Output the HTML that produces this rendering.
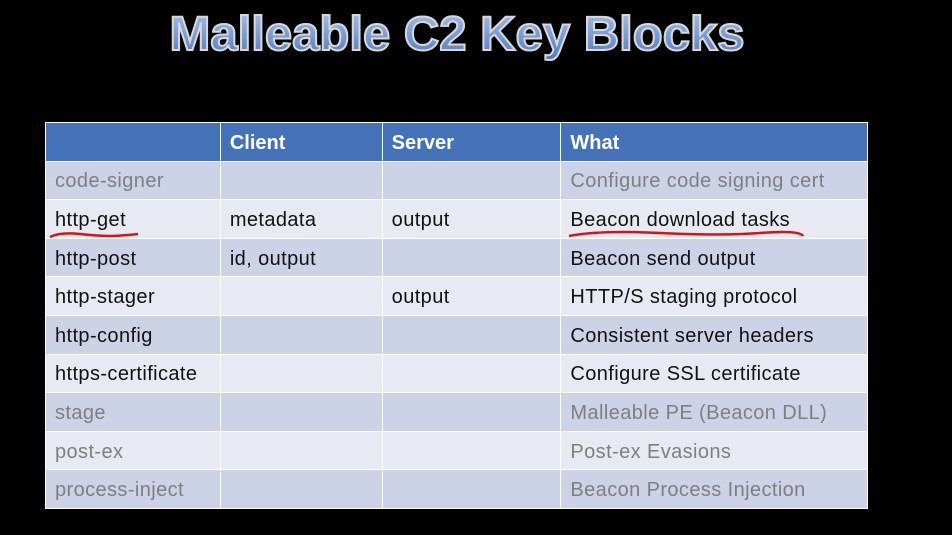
<!DOCTYPE html>
<html><head><style>
body{margin:0;width:952px;height:535px;background:#000;overflow:hidden;position:relative;font-family:"Liberation Sans",sans-serif}
.title{position:absolute;left:0;top:0;width:915px;text-align:center}
table{position:absolute;left:45px;top:122px;border-collapse:collapse;width:823px}
td{height:38.6px;padding:3px 0 0 9px;font-size:20px;letter-spacing:0.4px;color:#111;border:1.5px solid #fff;box-sizing:border-box}
tr.h td{background:#4472b9;color:#fff;font-weight:bold;letter-spacing:0}
tr.d td{background:#cdd3e6}
tr.l td{background:#e8eaf3}
.g{color:#7f7f7f!important}
</style></head><body>
<svg class="title" width="915" height="70">
<defs><linearGradient id="g" x1="0" y1="0" x2="0" y2="1"><stop offset="0" stop-color="#a9c3ea"/><stop offset="1" stop-color="#4a78c2"/></linearGradient></defs>
<text x="457" y="50" text-anchor="middle" font-family="Liberation Sans" font-weight="bold" font-size="48" fill="url(#g)" stroke="#d8d8d8" stroke-width="2" textLength="575" lengthAdjust="spacingAndGlyphs">Malleable C2 Key Blocks</text>
</svg>
<table>
<colgroup><col style="width:175px"><col style="width:162px"><col style="width:179px"><col style="width:307px"></colgroup>
<tr class="h"><td></td><td>Client</td><td>Server</td><td>What</td></tr>
<tr class="d"><td class="g">code-signer</td><td></td><td></td><td class="g">Configure code signing cert</td></tr>
<tr class="l"><td>http-get</td><td>metadata</td><td>output</td><td>Beacon download tasks</td></tr>
<tr class="d"><td>http-post</td><td>id, output</td><td></td><td>Beacon send output</td></tr>
<tr class="l"><td>http-stager</td><td></td><td>output</td><td>HTTP/S staging protocol</td></tr>
<tr class="d"><td>http-config</td><td></td><td></td><td>Consistent server headers</td></tr>
<tr class="l"><td>https-certificate</td><td></td><td></td><td>Configure SSL certificate</td></tr>
<tr class="d"><td class="g">stage</td><td></td><td></td><td class="g">Malleable PE (Beacon DLL)</td></tr>
<tr class="l"><td class="g">post-ex</td><td></td><td></td><td class="g">Post-ex Evasions</td></tr>
<tr class="d"><td class="g">process-inject</td><td></td><td></td><td class="g">Beacon Process Injection</td></tr>
</table>
<svg style="position:absolute;left:0;top:0" width="952" height="535">
<path d="M50 237 Q60 232 80 234 T110 236 T138 234" stroke="#e01010" stroke-width="2.5" fill="none"/>
<path d="M569 236 Q600 230 660 233 T760 233 T803 236" stroke="#e01010" stroke-width="2.5" fill="none"/>
</svg>
</body></html>
